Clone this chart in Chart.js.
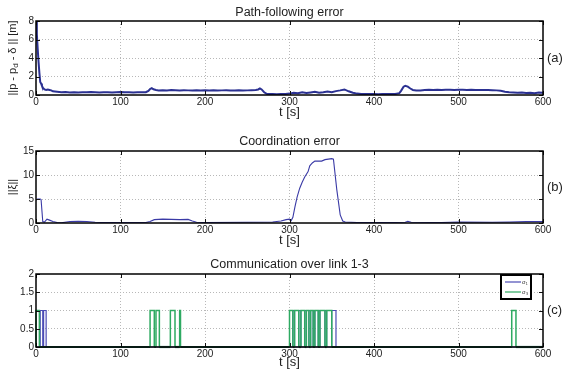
<!DOCTYPE html>
<html><head><meta charset="utf-8">
<script src="https://cdn.jsdelivr.net/npm/chart.js@4"></script>
<style>
html,body{margin:0;padding:0;background:#fff;}
#wrap{position:relative;width:562px;height:387px;overflow:hidden;background:#fff;}
canvas{position:absolute;left:0;}
</style></head><body>
<div id="wrap">
<canvas id="c1" width="562" height="125" style="top:0px"></canvas>
<canvas id="c2" width="562" height="125" style="top:125px"></canvas>
<canvas id="c3" width="562" height="125" style="top:250px"></canvas>
</div>
<script>
// ---------- data ----------
const xTicks = [0, 100, 200, 300, 400, 500, 600];
const pathTicks = [0, 2, 4, 6, 8];
const coordTicks = [0, 5, 10, 15];
const commTicks = [0, 0.5, 1, 1.5, 2];

const pathTime = [0,1,2,3,4,5,6,7,8,10,12,14,16,18,20,
  25,30,35,40,45,50,55,60,65,70,75,80,85,90,95,100,105,110,115,120,125,130,
  133,135,137,139,142,145,
  150,155,160,165,170,175,180,185,190,195,200,205,210,215,220,225,230,235,240,245,250,255,260,
  263,265,267,270,273,
  275,280,285,290,295,300,305,310,315,320,325,330,335,340,345,350,355,360,365,370,375,380,385,390,395,400,405,410,415,420,425,430,
  432,435,437,440,443,446,450,
  455,460,465,470,475,480,485,490,495,500,505,510,515,520,525,530,535,540,545,550,555,560,565,570,575,580,585,590,595,600];
const pathError = [8,6.6,5.0,3.6,2.4,1.4,1.25,1.0,0.8,0.6,0.55,0.6,0.55,0.5,0.4,
  0.35,0.3,0.32,0.28,0.3,0.27,0.31,0.29,0.33,0.3,0.28,0.31,0.3,0.27,0.3,0.32,0.29,0.3,0.28,0.31,0.3,0.3,
  0.45,0.65,0.75,0.62,0.55,0.5,
  0.52,0.5,0.53,0.51,0.5,0.52,0.5,0.49,0.51,0.5,0.52,0.5,0.51,0.49,0.5,0.52,0.5,0.5,0.51,0.49,0.5,0.52,0.55,
  0.6,0.72,0.6,0.3,0.12,
  0.1,0.12,0.08,0.1,0.12,0.15,0.25,0.2,0.3,0.22,0.28,0.35,0.25,0.3,0.38,0.3,0.42,0.5,0.6,0.4,0.25,0.15,0.12,0.1,0.12,0.1,0.08,0.1,0.12,0.1,0.12,0.2,
  0.45,0.9,1.0,0.9,0.7,0.55,0.5,
  0.5,0.55,0.58,0.55,0.57,0.55,0.56,0.58,0.55,0.56,0.57,0.55,0.56,0.55,0.54,0.55,0.53,0.52,0.5,0.45,0.35,0.3,0.28,0.25,0.27,0.22,0.25,0.2,0.28,0.25];

const coordTime = [0,2,5,6,8,10,13,16,20,25,30,40,50,60,70,80,100,130,135,140,150,160,170,180,185,190,200,250,280,290,296,300,302,304,306.5,309,312,315,318,322,324,327,330,335,338,342,346,350,352,356,360,363,366,380,420,437,440,444,480,500,540,560,580,600];
const coordError = [4.8,5,5,4.9,0.3,0.2,0.8,0.6,0.3,0.1,0.05,0.3,0.35,0.3,0.15,0.1,0.1,0.1,0.3,0.7,0.8,0.75,0.7,0.75,0.4,0.15,0.1,0.15,0.2,0.4,0.7,0.8,0.5,1.2,3.4,5.4,7.2,8.5,9.6,10.7,11.9,12.5,12.9,12.9,12.9,13.2,13.3,13.4,13.3,6.9,1.7,0.4,0.2,0.1,0.1,0.15,0.35,0.15,0.1,0.2,0.15,0.2,0.3,0.3];

const sigma1Start = [5, 9, 304, 311, 318, 323, 328, 334, 342, 350];
const sigma1End   = [8, 12, 306, 313.5, 320, 325, 330, 336, 344, 355];
const sigma3Start = [0, 135, 142, 159, 170, 300, 306, 313.5, 320, 325, 330, 336, 344, 563];
const sigma3End   = [4, 140, 146, 164.5, 171, 304, 311, 318, 323, 328, 334, 342, 350, 568];

// ---------- helpers ----------
const FONT = '"Liberation Sans", Arial, sans-serif';
Chart.defaults.font.family = FONT;
Chart.defaults.color = '#222';

function pts(xs, ys) { return xs.map((x, i) => ({x, y: ys[i]})); }
function pulses(starts, ends) {
  const p = [{x: 0, y: 0}];
  starts.forEach((s, i) => { p.push({x: s, y: 0}, {x: s, y: 1}, {x: ends[i], y: 1}, {x: ends[i], y: 0}); });
  p.push({x: 600, y: 0});
  return p;
}

const panelPlugin = {
  id: 'panel',
  afterDraw(chart, args, o) {
    const {ctx, chartArea: a} = chart;
    const xs = chart.scales.x, ys = chart.scales.y;
    ctx.save();
    // inside tick marks
    ctx.strokeStyle = '#111'; ctx.lineWidth = 1;
    ctx.beginPath();
    xs.ticks.forEach(t => {
      const px = Math.round(xs.getPixelForValue(t.value)) + 0.5;
      ctx.moveTo(px, a.bottom); ctx.lineTo(px, a.bottom - 4);
      ctx.moveTo(px, a.top); ctx.lineTo(px, a.top + 4);
    });
    ys.ticks.forEach(t => {
      const py = Math.round(ys.getPixelForValue(t.value)) + 0.5;
      ctx.moveTo(a.left, py); ctx.lineTo(a.left + 4, py);
      ctx.moveTo(a.right, py); ctx.lineTo(a.right - 4, py);
    });
    ctx.stroke();
    // box
    ctx.lineWidth = 1.5; ctx.strokeStyle = '#000';
    ctx.strokeRect(a.left, a.top, a.right - a.left, a.bottom - a.top);
    // title
    ctx.fillStyle = '#222';
    ctx.font = '12.5px ' + FONT;
    ctx.textAlign = 'center'; ctx.textBaseline = 'middle';
    ctx.fillText(o.title, (a.left + a.right) / 2, o.titleY);
    // tag
    ctx.font = '13px ' + FONT;
    ctx.textAlign = 'left';
    ctx.fillText(o.tag, a.right + 4, (a.top + a.bottom) / 2);
    // y label
    if (o.yLabel) {
      ctx.save();
      ctx.translate(o.yLabelX, (a.top + a.bottom) / 2);
      ctx.rotate(-Math.PI / 2);
      const main = '11px ' + FONT, sub = '8px ' + FONT;
      let w = 0;
      o.yLabel.forEach(([t, s]) => { ctx.font = s ? sub : main; w += ctx.measureText(t).width; });
      let x = -w / 2;
      ctx.textAlign = 'left';
      o.yLabel.forEach(([t, s]) => {
        ctx.font = s ? sub : main;
        ctx.fillText(t, x, s ? 3 : 0);
        x += ctx.measureText(t).width;
      });
      ctx.restore();
    }
    // legend
    if (o.legend) {
      const L = a.right - 42, T = a.top + 1, W = 30, H = 24;
      ctx.fillStyle = '#fff'; ctx.fillRect(L, T, W, H);
      ctx.lineWidth = 2; ctx.strokeStyle = '#000'; ctx.strokeRect(L, T, W, H);
      chart.data.datasets.forEach((d, i) => {
        const y = T + 7 + i * 10;
        ctx.strokeStyle = d.borderColor; ctx.lineWidth = 1.2;
        ctx.beginPath(); ctx.moveTo(L + 4, y); ctx.lineTo(L + 20, y); ctx.stroke();
        ctx.fillStyle = '#333'; ctx.font = '6px ' + FONT; ctx.textAlign = 'left';
        ctx.fillText(d.label, L + 21, y);
      });
    }
    ctx.restore();
  }
};

function makeChart(id, datasets, yTicks, o) {
  const yMax = yTicks[yTicks.length - 1];
  return new Chart(document.getElementById(id), {
    type: 'line',
    data: {datasets},
    plugins: [panelPlugin],
    options: {
      responsive: false, animation: false,
      layout: {padding: {top: o.areaTop, right: 19, left: 0, bottom: 0}},
      elements: {point: {radius: 0}, line: {tension: 0}},
      plugins: {legend: {display: false}, tooltip: {enabled: false}, panel: o},
      scales: {
        x: {
          type: 'linear', min: 0, max: 600,
          afterBuildTicks: s => { s.ticks = xTicks.map(v => ({value: v})); },
          afterFit: s => { s.height = o.xAxisH; },
          ticks: {font: {size: 10}, padding: 1, maxRotation: 0, autoSkip: false, color: '#222', callback: v => String(v)},
          grid: {drawTicks: false, color: c => (c.tick && (c.tick.value === 0 || c.tick.value === 600)) ? 'rgba(0,0,0,0)' : '#b8b8b8'},
          border: {display: false, dash: [1, 2]},
          title: {display: true, text: 't [s]', font: {size: 13, lineHeight: '14px'}, padding: {top: 0, bottom: o.xTitlePad}, color: '#222'}
        },
        y: {
          type: 'linear', min: 0, max: yMax,
          afterBuildTicks: s => { s.ticks = yTicks.map(v => ({value: v})); },
          afterFit: s => { s.width = 36; },
          ticks: {font: {size: 10}, padding: 2, autoSkip: false, color: '#222', callback: v => String(v)},
          grid: {drawTicks: false, color: c => (c.tick && (c.tick.value === 0 || c.tick.value === yMax)) ? 'rgba(0,0,0,0)' : '#b8b8b8'},
          border: {display: false, dash: [1, 2]}
        }
      }
    }
  });
}

makeChart('c1', [{
  label: 'path error', data: pts(pathTime, pathError),
  borderColor: '#2b3192', borderWidth: 2
}], pathTicks, {
  areaTop: 21, xAxisH: 30, xTitlePad: 6, title: 'Path-following error', titleY: 13, tag: '(a)',
  yLabel: [['||p - p', false], ['d', true], [' - δ || [m]', false]], yLabelX: 13
});

makeChart('c2', [{
  label: 'coordination error', data: pts(coordTime, coordError),
  borderColor: '#3a3aa6', borderWidth: 1.1
}], coordTicks, {
  areaTop: 26, xAxisH: 27, xTitlePad: 3, title: 'Coordination error', titleY: 17, tag: '(b)',
  yLabel: [['||ξ||', false]], yLabelX: 13
});

const zeroSeg = c => (c.p0.parsed.y === 0 && c.p1.parsed.y === 0) ? '#1d6a52' : undefined;
makeChart('c3', [{
  label: 'σ₁', data: pulses(sigma1Start, sigma1End),
  borderColor: '#4b4bb5', borderWidth: 1.2, order: 1, clip: 3
}, {
  label: 'σ₃', data: pulses(sigma3Start, sigma3End),
  borderColor: '#2eaa62', borderWidth: 1.5, order: 0, clip: 3,
  segment: {borderColor: zeroSeg, borderWidth: c => (c.p0.parsed.y === 0 && c.p1.parsed.y === 0) ? 2.2 : undefined}
}], commTicks, {
  areaTop: 24, xAxisH: 28, xTitlePad: 6, title: 'Communication over link 1-3', titleY: 15, tag: '(c)',
  legend: true
});
</script>
</body></html>
